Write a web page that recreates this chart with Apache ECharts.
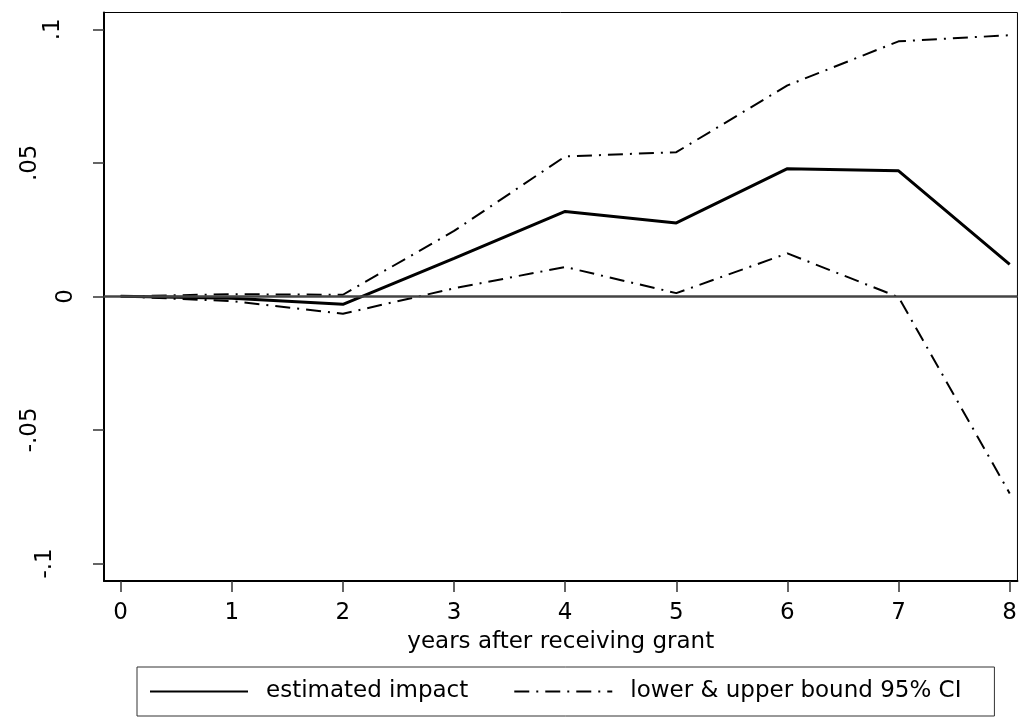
<!DOCTYPE html>
<html><head><meta charset="utf-8">
<script src="https://cdn.jsdelivr.net/npm/echarts@6/dist/echarts.min.js"></script>
<style>html,body{margin:0;padding:0;background:#fff}#c{width:1020px;height:717px}</style>
</head><body><div id="c"></div>
<script>
const years = [0, 1, 2, 3, 4, 5, 6, 7, 8];
const estimate = [0, -0.0007, -0.003, 0.0142, 0.0318, 0.0275, 0.0478, 0.0470, 0.012];
const upper = [0, 0.0008, 0.0006, 0.0245, 0.0524, 0.054, 0.079, 0.0955, 0.0978];
const lower = [0, -0.0018, -0.0065, 0.003, 0.011, 0.0012, 0.0161, -0.0003, -0.0738];
const xTicks = [0, 1, 2, 3, 4, 5, 6, 7, 8];
const yTicks = [-0.1, -0.05, 0, 0.05, 0.1];
const yTickLabels = ['-.1', '-.05', '0', '.05', '.1'];
const xTitle = 'years after receiving grant';
const estName = 'estimated impact';
const ciName = 'lower & upper bound 95% CI';

const FONT = '"DejaVu Sans", Verdana, sans-serif';
const FS = 23;
const yPad = [21, 36, 0, 36, 13];
const rich = {};
yTickLabels.forEach((t, i) => { rich['l' + i] = { fontSize: FS, fontFamily: FONT, color: '#000', padding: [0, 0, yPad[i], 0] }; });

const pts = a => years.map((x, i) => [x, a[i]]);
const ciStyle = { color: '#000', width: 2, type: [15, 7, 2, 7] };

const chart = echarts.init(document.getElementById('c'), null, { renderer: 'canvas' });
chart.setOption({
  animation: false,
  backgroundColor: '#fff',
  grid: { left: 104, right: 1, top: 12.5, bottom: 136, show: true, borderColor: '#000', borderWidth: 1 },
  xAxis: {
    type: 'value', min: -0.15, max: 8.07,
    splitLine: { show: false },
    axisLine: { show: true, onZero: false, lineStyle: { color: '#000', width: 2 } },
    axisTick: { show: true, customValues: xTicks, length: 11, lineStyle: { color: '#333', width: 1.5 } },
    axisLabel: { customValues: xTicks, margin: 21, fontSize: FS, fontFamily: FONT, color: '#000' },
    name: xTitle, nameLocation: 'middle', nameGap: 50,
    nameTextStyle: { fontSize: FS, fontFamily: FONT, color: '#000' }
  },
  yAxis: {
    type: 'value', min: -0.1066, max: 0.1063,
    splitLine: { show: false },
    axisLine: { show: true, onZero: false, lineStyle: { color: '#000', width: 2 } },
    axisTick: { show: true, customValues: yTicks, length: 11, lineStyle: { color: '#333', width: 1.5 } },
    axisLabel: {
      customValues: yTicks, rotate: 90, margin: 26,
      formatter: v => {
        let idx = 0, best = 1e9;
        yTicks.forEach((t, i) => { const d = Math.abs(t - v); if (d < best) { best = d; idx = i; } });
        return '{l' + idx + '|' + yTickLabels[idx] + '}';
      },
      rich: rich
    }
  },
  legend: {
    left: 137, top: 667, orient: 'horizontal',
    padding: [13, 33, 13, 12], itemGap: 45, itemWidth: 98, itemHeight: 14,
    borderColor: '#333', borderWidth: 1,
    itemStyle: { opacity: 0, borderWidth: 0 },
    textStyle: { fontSize: FS, fontFamily: FONT, color: '#000', padding: [0, 0, 0, 13] },
    data: [estName, ciName]
  },
  series: [
    {
      name: estName, type: 'line', data: pts(estimate), symbol: 'none',
      lineStyle: { color: '#000', width: 3 }, itemStyle: { color: '#000' }, z: 3,
      markLine: {
        silent: true, symbol: 'none', label: { show: false },
        lineStyle: { color: '#444', width: 2.5, type: 'solid' },
        data: [{ yAxis: 0 }]
      }
    },
    { name: ciName, type: 'line', data: pts(upper), symbol: 'none', lineStyle: ciStyle, itemStyle: { color: '#000' }, z: 2 },
    { name: ciName, type: 'line', data: pts(lower), symbol: 'none', lineStyle: ciStyle, itemStyle: { color: '#000' }, z: 2 }
  ]
});
</script></body></html>
